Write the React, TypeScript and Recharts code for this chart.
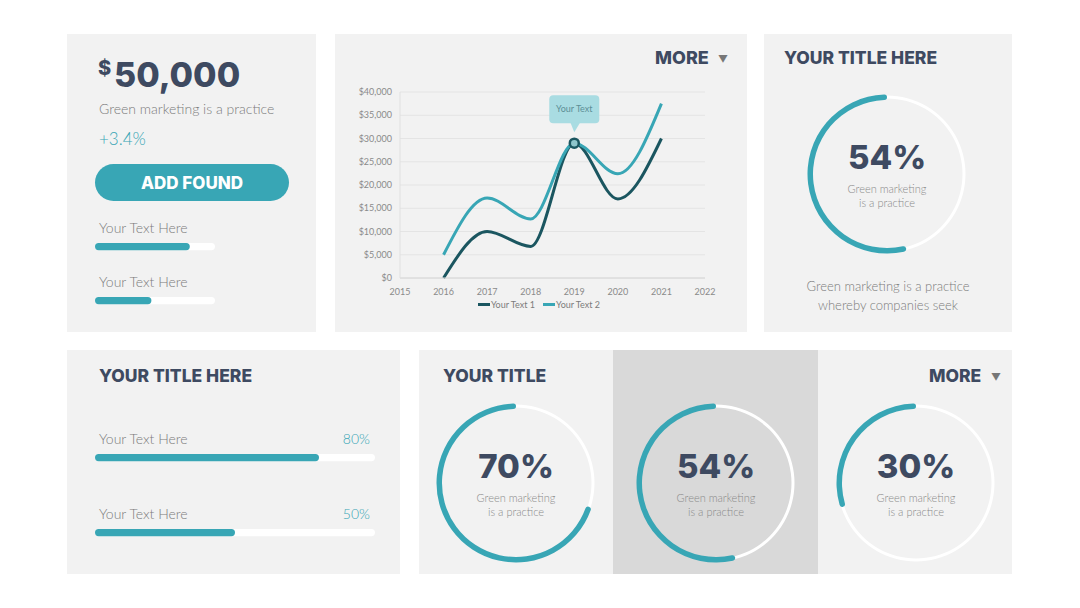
import React from 'react'
import {
  LineChart, Line, XAxis, YAxis, CartesianGrid, Legend, ReferenceDot,
  PieChart, Pie, Cell, BarChart, Bar,
} from 'recharts'

// ---- data ----
const YEARS = [2016, 2017, 2018, 2019, 2020, 2021]
const SERIES_1 = [0, 10000, 6800, 29000, 17000, 30000]
const SERIES_2 = [5000, 17200, 12700, 29000, 22400, 37500]
const SERIES_NAMES = ['Your Text 1', 'Your Text 2']
const X_TICKS = [2015, 2016, 2017, 2018, 2019, 2020, 2021, 2022]
const Y_TICKS = [0, 5000, 10000, 15000, 20000, 25000, 30000, 35000, 40000]
const CALLOUT = { year: 2019, value: 29000, text: 'Your Text' }

const SIDE_BARS = [79, 47]          // panel 1 progress bars
const SKILL_LABELS = ['Your Text Here', 'Your Text Here']
const SKILL_VALUES = [80, 50]       // panel 4 progress bars
const RING_MAIN = 54
const RINGS = [70, 54, 30]

const TEAL = '#38a6b5'
const DARK = '#1b5660'
const HEAD = '#3e4a61'
const GRAY = '#7c7c7c'
const PANEL = '#f2f2f2'
const HEAD_FONT = 'Inter, "Open Sans", sans-serif'
const BODY_FONT = 'Lato, "Open Sans", sans-serif'

const lineData = YEARS.map((year, i) => ({ year, s1: SERIES_1[i], s2: SERIES_2[i] }))

const money = (v: number) => `$${v.toLocaleString('en-US')}`

function Panel({ x, y, w, h, bg = PANEL }: { x: number; y: number; w: number; h: number; bg?: string }) {
  return <div style={{ position: 'absolute', left: x, top: y, width: w, height: h, background: bg }} />
}

function Txt({ x, y, size, color, weight = 300, font = BODY_FONT, children, align = 'left' }: any) {
  // y is the vertical centre of the text
  const tx = align === 'center' ? '-50%' : align === 'right' ? '-100%' : '0'
  return (
    <div style={{
      position: 'absolute', left: x, top: y, transform: `translate(${tx}, -50%)`,
      fontSize: size, color, fontWeight: weight, fontFamily: font, lineHeight: 1, whiteSpace: 'nowrap',
    }}>{children}</div>
  )
}

function Progress({ x, y, w, value }: { x: number; y: number; w: number; value: number }) {
  return (
    <div style={{ position: 'absolute', left: x, top: y }}>
      <BarChart width={w} height={8} data={[{ name: 'v', value }]} layout="vertical"
        margin={{ top: 0, right: 0, bottom: 0, left: 0 }} barCategoryGap={0}>
        <XAxis type="number" domain={[0, 100]} hide />
        <YAxis type="category" dataKey="name" hide width={0} />
        <Bar dataKey="value" fill={TEAL} barSize={8} radius={4}
          background={{ fill: '#ffffff', radius: 4 } as any} isAnimationActive={false} />
      </BarChart>
    </div>
  )
}

function Ring({ cx, cy, pct }: { cx: number; cy: number; pct: number }) {
  const size = 170
  return (
    <>
      <div style={{ position: 'absolute', left: cx - size / 2, top: cy - size / 2 }}>
        <PieChart width={size} height={size}>
          <Pie data={[{ v: 1 }]} dataKey="v" cx="50%" cy="50%" innerRadius={75.5} outerRadius={78.5}
            startAngle={90} endAngle={450} stroke="none" fill="#ffffff" isAnimationActive={false} />
          <Pie data={[{ v: pct }, { v: 100 - pct }]} dataKey="v" cx="50%" cy="50%"
            innerRadius={74} outerRadius={79.5} startAngle={90} endAngle={450}
            cornerRadius={3} stroke="none" isAnimationActive={false}>
            <Cell fill={TEAL} />
            <Cell fill="transparent" />
          </Pie>
        </PieChart>
      </div>
      <Txt x={cx} y={cy - 17} size={33} color={HEAD} weight={800} font={HEAD_FONT} align="center">{pct}%</Txt>
      <Txt x={cx} y={cy + 14} size={11} color="#8a8a8a" align="center">Green marketing</Txt>
      <Txt x={cx} y={cy + 28} size={11} color="#8a8a8a" align="center">is a practice</Txt>
    </>
  )
}

function Callout(props: any) {
  const { cx, cy } = props
  if (cx == null || cy == null) return null
  const bx = cx - 25, by = cy - 48
  return (
    <g>
      <rect x={bx} y={by} width={50} height={28} rx={4} fill="#a9dce2" />
      <polygon points={`${cx - 4},${by + 27} ${cx + 6},${by + 27} ${cx},${by + 37}`} fill="#a9dce2" />
      <text x={bx + 25} y={by + 17} textAnchor="middle" fontSize={9} fill="#5d8f96" fontFamily={BODY_FONT}>
        {CALLOUT.text}
      </text>
      <circle cx={cx} cy={cy} r={4.5} fill="#8fc6cc" stroke={DARK} strokeWidth={2.5} />
    </g>
  )
}

function LegendContent() {
  const colors = [DARK, TEAL]
  return (
    <div style={{ display: 'flex', justifyContent: 'center', height: 18, marginTop: -3, fontFamily: BODY_FONT, fontSize: 9, color: GRAY }}>
      {SERIES_NAMES.map((n, i) => (
        <div key={n} style={{ display: 'flex', alignItems: 'center', marginRight: 8, height: 10 }}>
          <span style={{ display: 'inline-block', width: 12, height: 3, background: colors[i], marginRight: 1 }} />
          {n}
        </div>
      ))}
    </div>
  )
}

function Arrow({ x, y }: { x: number; y: number }) {
  return <Txt x={x} y={y} size={10} color="#777" font={HEAD_FONT}>▼</Txt>
}

export default function App() {
  return (
    <div style={{ position: 'absolute', left: 0, top: 0, width: 1080, height: 608, background: '#fff', overflow: 'hidden' }}>
      {/* panels */}
      <Panel x={67} y={34} w={249} h={298} />
      <Panel x={335} y={34} w={412} h={298} />
      <Panel x={764} y={34} w={248} h={298} />
      <Panel x={67} y={350} w={333} h={224} />
      <Panel x={419} y={350} w={593} h={224} />
      <Panel x={613} y={350} w={205} h={224} bg="#d9d9d9" />

      {/* panel 1 */}
      <Txt x={98} y={68} size={20} color={HEAD} weight={800} font={HEAD_FONT}>$</Txt>
      <Txt x={114} y={75} size={34} color={HEAD} weight={800} font={HEAD_FONT}>50,000</Txt>
      <Txt x={99} y={109} size={14} color={GRAY}>Green marketing is a practice</Txt>
      <Txt x={99} y={138} size={17} color={TEAL}>+3.4%</Txt>
      <div style={{
        position: 'absolute', left: 95, top: 164, width: 194, height: 37, borderRadius: 19, background: TEAL,
        color: '#fff', fontFamily: HEAD_FONT, fontWeight: 800, fontSize: 17, display: 'flex',
        alignItems: 'center', justifyContent: 'center',
      }}>ADD FOUND</div>
      <Txt x={99} y={228} size={14} color={GRAY}>Your Text Here</Txt>
      <Progress x={95} y={243} w={120} value={SIDE_BARS[0]} />
      <Txt x={99} y={282} size={14} color={GRAY}>Your Text Here</Txt>
      <Progress x={95} y={297} w={120} value={SIDE_BARS[1]} />

      {/* panel 2: line chart */}
      <Txt x={655} y={58} size={18} color={HEAD} weight={800} font={HEAD_FONT}>MORE</Txt>
      <Arrow x={718} y={59} />
      <div style={{ position: 'absolute', left: 340, top: 80 }}>
        <LineChart width={400} height={240} data={lineData} margin={{ top: 12, right: 35, left: 0, bottom: 0 }}>
          <CartesianGrid vertical={false} stroke="#e4e4e4" />
          <XAxis type="number" dataKey="year" domain={[2015, 2022]} ticks={X_TICKS} height={24}
            tickLine={false} axisLine={{ stroke: '#d6d6d6' }} tickMargin={5}
            tick={{ fontSize: 9, fill: '#8a8a8a', fontFamily: BODY_FONT }} />
          <YAxis domain={[0, 40000]} ticks={Y_TICKS} width={60} tickFormatter={money}
            tickLine={false} axisLine={{ stroke: '#e0e0e0' }}
            tick={{ fontSize: 9, fill: '#8a8a8a', fontFamily: BODY_FONT }} />
          <Line type="monotone" dataKey="s1" name={SERIES_NAMES[0]} stroke={DARK} strokeWidth={3}
            dot={false} isAnimationActive={false} />
          <Line type="monotone" dataKey="s2" name={SERIES_NAMES[1]} stroke={TEAL} strokeWidth={3}
            dot={false} isAnimationActive={false} />
          <ReferenceDot x={CALLOUT.year} y={CALLOUT.value} r={5} shape={Callout} ifOverflow="visible" />
          <Legend verticalAlign="bottom" content={LegendContent}
            wrapperStyle={{ left: 3, width: 400, height: 18 }} />
        </LineChart>
      </div>

      {/* panel 3 */}
      <Txt x={784} y={58} size={17.5} color={HEAD} weight={800} font={HEAD_FONT}>YOUR TITLE HERE</Txt>
      <Ring cx={887} cy={174} pct={RING_MAIN} />
      <Txt x={888} y={286} size={13} color={GRAY} align="center">Green marketing is a practice</Txt>
      <Txt x={888} y={305} size={13} color={GRAY} align="center">whereby companies seek</Txt>

      {/* panel 4 */}
      <Txt x={99} y={376} size={17.5} color={HEAD} weight={800} font={HEAD_FONT}>YOUR TITLE HERE</Txt>
      {SKILL_VALUES.map((v, i) => (
        <React.Fragment key={i}>
          <Txt x={99} y={439 + i * 75} size={14} color={GRAY}>{SKILL_LABELS[i]}</Txt>
          <Txt x={370} y={439 + i * 75} size={14} color={TEAL} align="right">{v}%</Txt>
          <Progress x={95} y={454 + i * 75} w={280} value={v} />
        </React.Fragment>
      ))}

      {/* panel 5 */}
      <Txt x={443} y={376} size={17.5} color={HEAD} weight={800} font={HEAD_FONT}>YOUR TITLE</Txt>
      <Txt x={929} y={376} size={17.5} color={HEAD} weight={800} font={HEAD_FONT}>MORE</Txt>
      <Arrow x={991} y={377} />
      {RINGS.map((p, i) => (
        <Ring key={i} cx={516 + i * 200} cy={483} pct={p} />
      ))}
    </div>
  )
}
